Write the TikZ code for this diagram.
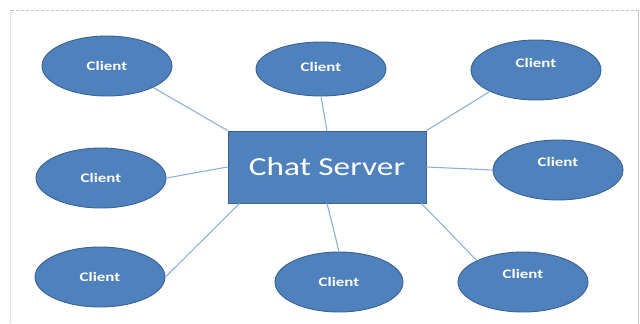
\documentclass[tikz,border=0pt]{standalone}
\usepackage{fontspec}
\usepackage{graphicx}
\setmainfont{Carlito}
\usetikzlibrary{shapes.geometric}

\definecolor{nodefill}{HTML}{4F81BD}
\definecolor{nodeedge}{HTML}{3A6291}
\definecolor{linkcol}{HTML}{8EB1DC}
\definecolor{framecol}{HTML}{C4C4C4}

\tikzset{
  client/.style={ellipse, fill=nodefill, draw=nodeedge, line width=0.9pt,
    minimum width=130pt, minimum height=60pt, inner sep=0pt},
  cltext/.style={text=white, font=\fontsize{13}{13}\selectfont\bfseries},
  serverbox/.style={rectangle, fill=nodefill, draw=nodeedge, line width=0.8pt,
    minimum width=198pt, minimum height=72pt, inner sep=0pt,
    text=white, font=\fontsize{26}{26}\selectfont},
  link/.style={draw=linkcol, line width=1.1pt},
  frame/.style={draw=framecol, line width=0.8pt}
}

\newcommand{\wide}[1]{\scalebox{1.3}[1]{#1}}

\begin{document}
\begin{tikzpicture}[x=1pt, y=-1pt]
  \useasboundingbox (0,0) rectangle (640,324);

  % page frame
  \draw[frame, dash pattern=on 3pt off 2pt] (11,10) -- (640,10);
  \draw[frame, line width=1.6pt, dash pattern=on 1pt off 1pt] (10.5,10) -- (10.5,324);
  \draw[frame, line width=0.6pt] (638,10) -- (638,324);

  % central server
  \node[serverbox] (srv) at (327,167) {\scalebox{1.28}[1]{Chat Server}};

  % clients
  \node[client, label={[cltext]center:\wide{Client}}] (c1) at (107,66) {};
  \node[client, minimum height=54pt, label={[cltext,yshift=2pt]center:\wide{Client}}] (c2) at (321,69) {};
  \node[client, label={[cltext,yshift=7pt]center:\wide{Client}}] (c3) at (536,70) {};
  \node[client, label={[cltext]center:\wide{Client}}] (c4) at (101,178) {};
  \node[client, label={[cltext,yshift=8pt]center:\wide{Client}}] (c5) at (558,170) {};
  \node[client, label={[cltext]center:\wide{Client}}] (c6) at (100,277) {};
  \node[client, minimum width=128pt, label={[cltext]center:\wide{Client}}] (c7) at (339,282) {};
  \node[client, label={[cltext,yshift=8pt]center:\wide{Client}}] (c8) at (523,282) {};

  % connections
  \draw[link] (c1.south east) -- (srv.north west);
  \draw[link] (c2.south) -- (srv.north);
  \draw[link] (c3.south west) -- (srv.north east);
  \draw[link] (c4.east) -- (srv.west);
  \draw[link] (srv.east) -- (c5.west);
  \draw[link] ([xshift=12pt]srv.south west) -- (c6.east);
  \draw[link] (srv.south) -- (c7.north);
  \draw[link] ([xshift=-5pt]srv.south east) -- (c8.north west);
\end{tikzpicture}
\end{document}
